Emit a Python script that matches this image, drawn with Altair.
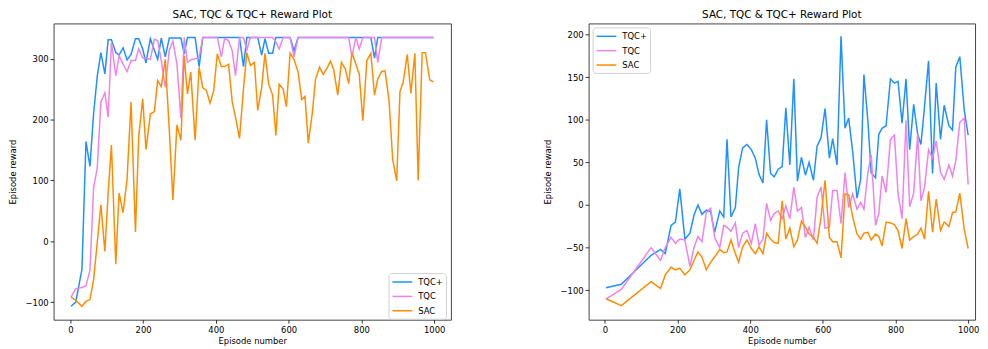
import altair as alt
import pandas as pd

# ---------------- data ----------------
left_x = [2, 15, 32, 43, 54, 64, 74, 84, 95, 104,
          113, 125, 134, 145, 156, 167, 179, 188, 199, 208,
          220, 231, 240, 250, 261, 272, 282, 293, 304, 313,
          322, 331, 343, 354, 364, 374, 384, 394, 404, 415,
          424, 435, 445, 454, 465, 476, 485, 495, 506, 515,
          526, 535, 545, 556, 565, 574, 585, 594, 604, 615,
          626, 636, 645, 654, 665, 674, 685, 695, 706, 715,
          724, 735, 745, 756, 765, 774, 785, 794, 804, 815,
          826, 836, 845, 856, 865, 876, 886, 897, 906, 915,
          926, 936, 947, 956, 967, 976, 988, 998]
left_tqc_plus = [-107, -100, -46, 164, 123, 210, 271, 310, 275, 331,
                 331, 310, 306, 318, 298, 307, 333, 333, 316, 293,
                 333, 314, 299, 334, 303, 334, 334, 334, 334, 308,
                 335, 335, 335, 287, 335, 335, 335, 335, 335, 335,
                 335, 335, 335, 335, 335, 287, 335, 335, 335, 335,
                 306, 333, 309, 309, 335, 335, 335, 335, 335, 313,
                 335, 335, 335, 335, 335, 335, 335, 335, 335, 335,
                 335, 335, 335, 335, 335, 335, 335, 335, 335, 335,
                 335, 301, 335, 335, 335, 335, 335, 335, 335, 335,
                 335, 335, 335, 335, 335, 335, 335, 335]
left_tqc = [-92, -78, -76, -73, -48, 88, 120, 229, 244, 204,
            327, 272, 305, 291, 279, 297, 297, 316, 301, 301,
            299, 332, 330, 297, 253, 314, 329, 291, 202, 335,
            294, 298, 300, 302, 335, 335, 335, 335, 335, 303,
            333, 330, 313, 272, 335, 335, 314, 335, 335, 335,
            335, 335, 335, 335, 328, 316, 335, 335, 335, 303,
            335, 335, 335, 335, 335, 335, 335, 335, 335, 335,
            335, 335, 335, 335, 335, 303, 335, 316, 335, 335,
            335, 335, 294, 335, 335, 335, 335, 335, 335, 335,
            335, 335, 335, 335, 335, 335, 335, 335]
left_sac = [-92, -97, -107, -99, -96, -63, -2, 60, -17, 79,
            158, -38, 79, 47, 102, 229, 15, 172, 234, 151,
            209, 213, 264, 254, 299, 183, 68, 191, 166, 305,
            242, 278, 166, 286, 252, 248, 227, 247, 308, 287,
            287, 291, 229, 204, 169, 251, 310, 289, 294, 215,
            253, 309, 259, 240, 174, 258, 250, 221, 309, 299,
            278, 233, 238, 161, 210, 267, 286, 274, 285, 296,
            282, 240, 294, 283, 259, 310, 291, 275, 198, 297,
            309, 240, 267, 279, 280, 231, 134, 99, 246, 262,
            307, 243, 309, 100, 310, 310, 265, 262]

right_x = [3, 45, 127, 153, 166, 182, 194, 206, 220, 234,
           245, 256, 267, 279, 291, 302, 316, 327, 336, 347,
           359, 368, 379, 391, 403, 414, 424, 435, 445, 456,
           466, 477, 488, 498, 509, 520, 530, 541, 552, 562,
           574, 584, 595, 606, 618, 627, 639, 650, 661, 671,
           682, 694, 704, 713, 724, 733, 745, 754, 763, 774,
           786, 797, 807, 818, 829, 839, 850, 861, 870, 880,
           891, 902, 912, 924, 934, 947, 957, 966, 977, 989,
           1000]
right_tqc_plus = [-97, -93, -59, -52, -57, -24, -20, 19, -40, -33,
                  -12, 0, -11, -6, -8, -32, -7, -14, 77, -14,
                  -3, 44, 67, 71, 65, 55, 36, 26, 100, 37,
                  33, 42, 45, 114, 47, 148, 28, 56, 35, 50,
                  29, 69, 79, 113, 55, 78, 47, 198, 90, 102,
                  63, 8, 30, 153, 98, 38, 32, 83, 90, 93,
                  148, 143, 145, 96, 148, 65, 118, 83, 71, 116,
                  169, 37, 143, 77, 117, 93, 88, 162, 174, 112,
                  82]
right_tqc = [-110, -99, -50, -65, -50, -38, -45, -40, -41, -72,
             -50, -37, -43, -9, -4, -38, -50, -24, -26, -31,
             -21, -50, -33, -30, -45, -22, -47, -40, 2, -18,
             -10, -7, -16, -1, -16, 21, -7, -3, -38, -26,
             -41, 9, 21, -27, -26, 17, 17, -22, 38, -3,
             13, -5, 3, -5, 38, 59, -24, -10, 34, 15,
             77, 82, 13, -16, 99, -2, 14, 83, 5, 21,
             65, 55, 75, 38, 30, 47, 34, 52, 97, 102,
             24]
right_sac = [-110, -118, -90, -98, -82, -73, -76, -74, -82, -76,
             -65, -55, -61, -76, -67, -61, -52, -56, -55, -41,
             -57, -67, -49, -41, -51, -57, -49, -57, -33, -40,
             -44, -45, 5, -40, -27, -49, -41, -19, -26, -34,
             -38, -45, -14, 29, -38, -43, -43, -62, 13, 12,
             -14, -34, -40, -33, -32, -41, -34, -37, -48, -20,
             -21, -23, -30, -51, -16, -41, -37, -34, -27, -40,
             16, -32, 7, -30, -20, -25, -9, -8, 14, -28,
             -51]

series = ["TQC+", "TQC", "SAC"]
colors = ["#1E90FF", "#EE82EE", "#FF8C00"]
x_ticks = [0, 200, 400, 600, 800, 1000]
left_y_ticks = [-100, 0, 100, 200, 300]
right_y_ticks = [-100, -50, 0, 50, 100, 150, 200]
title_text = "SAC, TQC & TQC+ Reward Plot"
FONT = "DejaVu Sans"


def build_frame(xs, ys_list):
    rows = []
    for name, ys in zip(series, ys_list):
        for x, y in zip(xs, ys):
            rows.append({"episode": x, "reward": y, "algo": name})
    return pd.DataFrame(rows)


def panel(df, xdom, ydom, yticks, width, lx, ly):
    return alt.Chart(df).mark_line(strokeWidth=1.5, clip=True).encode(
        x=alt.X("episode:Q",
                scale=alt.Scale(domain=xdom, nice=False, zero=False),
                axis=alt.Axis(values=x_ticks, title="Episode number", format="d")),
        y=alt.Y("reward:Q",
                scale=alt.Scale(domain=ydom, nice=False, zero=False),
                axis=alt.Axis(values=yticks, title="Episode reward", format="d",
                              titleX=-36, titleBaseline="bottom")),
        color=alt.Color("algo:N",
                        scale=alt.Scale(domain=series, range=colors),
                        sort=series,
                        legend=alt.Legend(title=None, orient="none",
                                          legendX=lx, legendY=ly)),
    ).properties(
        width=width, height=299,
        title=alt.TitleParams(title_text, font=FONT, fontSize=10.5,
                              fontWeight="normal", color="black",
                              anchor="middle", offset=3),
    )


left_df = build_frame(left_x, [left_tqc_plus, left_tqc, left_sac])
right_df = build_frame(right_x, [right_tqc_plus, right_tqc, right_sac])

left = panel(left_df, [-46, 1046], [-129, 358], left_y_ticks, 401, 338, 252)
right = panel(right_df, [-45, 1019], [-134.5, 213], right_y_ticks, 390, 4, 4)

chart = alt.hconcat(left, right, spacing=92).resolve_scale(
    color="independent"
).resolve_legend(
    color="independent"
).properties(
    padding=0
).configure_view(
    stroke="#444444", strokeWidth=1
).configure_axis(
    domain=False, grid=False,
    tickSize=3.5, tickColor="black", tickWidth=0.8,
    labelFont=FONT, labelFontSize=8.5, labelColor="black", labelPadding=2,
    titleFont=FONT, titleFontSize=8.5, titleFontWeight="normal",
    titleColor="black", titlePadding=3,
).configure_legend(
    symbolType="M-1,0H3", symbolSize=100, symbolStrokeWidth=1.5,
    labelFont=FONT, labelFontSize=8.5, labelColor="black", labelOffset=15,
    rowPadding=3.5, padding=3, strokeColor="#d0d0d0", cornerRadius=3,
    fillColor="rgba(255,255,255,0.8)",
)

chart.save("out.html", embed_options={"renderer": "svg", "actions": False})
